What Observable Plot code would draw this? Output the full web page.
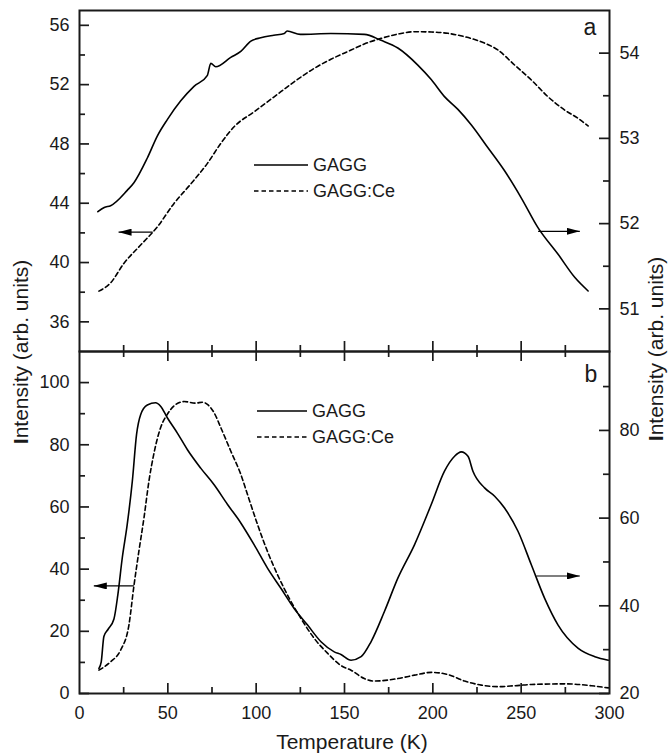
<!DOCTYPE html>
<html>
<head>
<meta charset="utf-8">
<script src="https://cdn.jsdelivr.net/npm/d3@7"></script>
<script src="https://cdn.jsdelivr.net/npm/@observablehq/plot@0.6"></script>
<style>
  html, body { margin: 0; padding: 0; background: #fff; }
  #chart { position: relative; width: 669px; height: 755px; font-family: "Liberation Sans", Arial, sans-serif; }
  #chart svg { position: absolute; left: 0; top: 0; }
</style>
</head>
<body>
<div id="chart"></div>
<script>
// ---------- tick values ----------
const xMajor = [0, 50, 100, 150, 200, 250, 300];
const xMinor = [25, 75, 125, 175, 225, 275];
const aLeftMajor = [36, 40, 44, 48, 52, 56];
const aLeftMinor = [38, 42, 46, 50, 54];
const aRightMajor = [51, 52, 53, 54];
const aRightMinor = [51.5, 52.5, 53.5];
const bLeftMajor = [0, 20, 40, 60, 80, 100];
const bLeftMinor = [10, 30, 50, 70, 90];
const bRightMajor = [20, 40, 60, 80];
const bRightMinor = [30, 50, 70, 90];

// ---------- series labels ----------
const seriesNames = ["GAGG", "GAGG:Ce"];
const panelNames = ["a", "b"];

// ---------- panel a : GAGG:Ce (dashed, left axis) ----------
const aCeT = [11.0, 17.6, 25.1, 34.6, 44.1, 53.5, 63.0, 72.4, 80.0, 87.5, 98.9, 110.2, 121.5, 132.9, 142.3, 153.7, 161.2, 170.7, 180.2, 189.6, 199.1, 208.5, 218.0, 227.4, 236.9, 246.3, 255.8, 265.2, 274.7, 282.3, 287.9];
const aCeV = [38.07, 38.63, 39.94, 41.18, 42.41, 43.99, 45.3, 46.69, 48.04, 49.16, 50.17, 51.18, 52.19, 53.10, 53.71, 54.33, 54.74, 55.12, 55.41, 55.57, 55.55, 55.46, 55.23, 54.89, 54.33, 53.32, 52.31, 51.18, 50.28, 49.72, 49.21];

// ---------- panel a : GAGG (solid, right axis) ----------
const aGaggT = [10.4, 14.0, 17.6, 27.0, 30.8, 38.4, 44.1, 49.7, 57.3, 64.8, 72.4, 74.3, 77.1, 85.6, 91.3, 97.0, 102.6, 110.0, 115.9, 117.5, 125.0, 142.3, 161.2, 170.7, 180.2, 191.5, 199.1, 206.6, 214.2, 221.7, 231.2, 240.6, 250.1, 259.6, 270.9, 280.3, 287.9];
const aGaggV = [52.14, 52.19, 52.21, 52.39, 52.48, 52.77, 53.03, 53.22, 53.44, 53.61, 53.74, 53.88, 53.84, 53.95, 54.02, 54.14, 54.18, 54.21, 54.23, 54.26, 54.22, 54.23, 54.22, 54.15, 54.06, 53.86, 53.69, 53.49, 53.34, 53.16, 52.89, 52.62, 52.30, 51.95, 51.64, 51.37, 51.21];

// ---------- panel b : GAGG:Ce (dashed, left axis) ----------
const bCeT = [11.0, 17.6, 23.3, 28.0, 30.8, 33.6, 36.5, 39.3, 42.2, 45.9, 49.7, 53.5, 59.2, 65.8, 69.5, 72.4, 76.2, 80.0, 85.6, 91.3, 95.1, 100.8, 106.4, 112.1, 119.7, 125.3, 132.9, 140.5, 148.0, 153.7, 161.2, 166.9, 180.2, 189.6, 199.1, 208.5, 218.0, 227.4, 236.9, 246.3, 255.8, 274.7, 289.8, 299.3];
const bCeV = [7.5, 10.2, 14.0, 22.1, 34.6, 45.7, 56.5, 68.3, 77.4, 85.5, 89.8, 92.5, 93.9, 93.4, 93.7, 93.0, 90.3, 85.5, 78.0, 70.5, 64.0, 54.3, 45.7, 38.2, 29.6, 24.2, 17.7, 12.9, 9.0, 7.5, 4.8, 4.0, 4.8, 5.9, 6.8, 6.1, 4.0, 2.7, 2.2, 2.5, 2.9, 3.1, 2.5, 1.8];

// ---------- panel b : GAGG (solid, right axis) ----------
const bGaggT = [11.0, 12.3, 13.8, 16.1, 19.5, 21.7, 24.2, 27.0, 29.9, 32.3, 34.6, 38.4, 43.1, 45.9, 49.7, 55.4, 61.1, 68.6, 76.2, 83.8, 91.3, 98.9, 106.4, 114.0, 121.5, 129.1, 136.7, 144.2, 148.0, 153.7, 159.4, 165.0, 172.6, 180.2, 189.6, 199.1, 206.6, 212.3, 216.1, 219.9, 222.7, 229.3, 235.0, 240.6, 248.2, 255.8, 263.3, 270.9, 282.3, 291.7, 299.3];
const bGaggV = [25.7, 27.2, 33.0, 34.6, 37.0, 42.5, 50.9, 58.5, 68.4, 79.1, 83.6, 85.8, 86.3, 85.5, 82.9, 79.4, 75.6, 71.4, 67.6, 63.1, 58.9, 53.9, 48.6, 44.0, 39.4, 35.6, 31.8, 29.5, 28.9, 27.6, 28.4, 31.8, 38.7, 46.3, 53.9, 63.1, 70.7, 74.1, 75.1, 74.1, 70.7, 66.9, 65.0, 62.3, 57.0, 49.3, 41.7, 35.6, 30.3, 28.4, 27.6];

// ---------- arrows (axis-pointing annotations) ----------
const aLeftArrow = [{x1: 41.4, x2: 22.1, y: 42.05}];
const aRightArrow = [{x1: 259.6, x2: 283.2, y: 51.91}];
const bLeftArrow = [{x1: 30.8, x2: 8.1, y: 34.6}];
const bRightArrow = [{x1: 258.6, x2: 283.2, y: 46.8}];

// ---------- layout ----------
const W = 669, H = 755;
const ML = 79, MR = 60;
const aTop = 10, mid = 351, bBottom = 693;
const plotW = W - ML - MR;
const aH = mid - aTop, bH = bBottom - mid;
const INK = "#1a1a1a";
const FONT = "'Liberation Sans', Arial, Helvetica, sans-serif";
const X_DOMAIN = [0, 300];
const A_LEFT = [34, 57], A_RIGHT = [50.5, 54.5], B_LEFT = [0, 110], B_RIGHT = [20, 98];
const MAJOR = 10, MINOR = 6;

const zip = (T, V) => T.map((t, i) => ({T: t, V: V[i]}));

function base(top, bottom, ydomain, xAxisNull) {
  return {
    width: W, height: H,
    marginLeft: ML, marginRight: MR, marginTop: top, marginBottom: H - bottom,
    x: xAxisNull ? {domain: X_DOMAIN, axis: null} : {domain: X_DOMAIN},
    y: {domain: ydomain},
    style: {background: "transparent", fontFamily: FONT, fontSize: "18px", color: INK, overflow: "visible"}
  };
}

const tickStyle = {stroke: INK, strokeWidth: 1.7};
const lineStyle = {x: "T", y: "V", stroke: "#000", strokeWidth: 1.6, curve: "monotone-x"};
const dashStyle = {...lineStyle, strokeDasharray: "4.5,3"};
const arrowStyle = {x1: "x1", x2: "x2", y1: "y", y2: "y", stroke: "#000", strokeWidth: 1.2};
const fmt = d => String(d);

// inward ticks: a pixel length converted into scale units
function yTicks(values, side, lenPx) {
  const u = lenPx * (X_DOMAIN[1] - X_DOMAIN[0]) / plotW;
  const x1 = side === "left" ? X_DOMAIN[0] : X_DOMAIN[1] - u;
  const x2 = side === "left" ? X_DOMAIN[0] + u : X_DOMAIN[1];
  return Plot.ruleY(values, {y: d => d, x1, x2, ...tickStyle});
}
function xTicks(values, where, lenPx, ydomain, h) {
  const u = lenPx * (ydomain[1] - ydomain[0]) / h;
  const y1 = where === "bottom" ? ydomain[0] : ydomain[1] - u;
  const y2 = where === "bottom" ? ydomain[0] + u : ydomain[1];
  return Plot.ruleX(values, {x: d => d, y1, y2, ...tickStyle});
}

// Panel a, left axis (GAGG:Ce)
const svgALeft = Plot.plot({
  ...base(aTop, mid, A_LEFT, true),
  marks: [
    Plot.frame({stroke: INK, strokeWidth: 2}),
    Plot.axisY({ticks: aLeftMajor, tickFormat: fmt, anchor: "left", tickSize: 0, tickPadding: 10, label: null}),
    yTicks(aLeftMajor, "left", MAJOR),
    yTicks(aLeftMinor, "left", MINOR),
    xTicks(xMajor.slice(1, -1), "bottom", MAJOR, A_LEFT, aH),
    xTicks(xMinor, "bottom", MINOR, A_LEFT, aH),
    Plot.line(zip(aCeT, aCeV), dashStyle),
    Plot.link(aLeftArrow, arrowStyle)
  ]
});

// Panel a, right axis (GAGG)
const svgARight = Plot.plot({
  ...base(aTop, mid, A_RIGHT, true),
  marks: [
    Plot.axisY({ticks: aRightMajor, tickFormat: fmt, anchor: "right", tickSize: 0, tickPadding: 10, label: null}),
    yTicks(aRightMajor, "right", MAJOR),
    yTicks(aRightMinor, "right", MINOR),
    Plot.line(zip(aGaggT, aGaggV), lineStyle),
    Plot.link(aRightArrow, arrowStyle)
  ]
});

// Panel b, left axis (GAGG:Ce)
const svgBLeft = Plot.plot({
  ...base(mid, bBottom, B_LEFT, false),
  marks: [
    Plot.frame({stroke: INK, strokeWidth: 2}),
    Plot.axisY({ticks: bLeftMajor, tickFormat: fmt, anchor: "left", tickSize: 0, tickPadding: 10, label: null}),
    Plot.axisX({ticks: xMajor, tickFormat: fmt, anchor: "bottom", tickSize: 0, tickPadding: 13, label: null}),
    yTicks(bLeftMajor, "left", MAJOR),
    yTicks(bLeftMinor, "left", MINOR),
    xTicks(xMajor.slice(1, -1), "bottom", MAJOR, B_LEFT, bH),
    xTicks(xMinor, "bottom", MINOR, B_LEFT, bH),
    xTicks(xMajor.slice(1, -1), "top", MAJOR, B_LEFT, bH),
    xTicks(xMinor, "top", MINOR, B_LEFT, bH),
    Plot.line(zip(bCeT, bCeV), dashStyle),
    Plot.link(bLeftArrow, arrowStyle)
  ]
});

// Panel b, right axis (GAGG)
const svgBRight = Plot.plot({
  ...base(mid, bBottom, B_RIGHT, true),
  marks: [
    Plot.axisY({ticks: bRightMajor, tickFormat: fmt, anchor: "right", tickSize: 0, tickPadding: 10, label: null}),
    yTicks(bRightMajor, "right", MAJOR),
    yTicks(bRightMinor, "right", MINOR),
    Plot.line(zip(bGaggT, bGaggV), lineStyle),
    Plot.link(bRightArrow, arrowStyle)
  ]
});

function addArrowHeads(svg, id) {
  const s = d3.select(svg);
  const m = s.append("defs").append("marker")
    .attr("id", id).attr("viewBox", "0 0 10 10")
    .attr("refX", 10).attr("refY", 5)
    .attr("markerWidth", 13).attr("markerHeight", 7)
    .attr("markerUnits", "userSpaceOnUse").attr("orient", "auto")
    .attr("preserveAspectRatio", "none");
  m.append("path").attr("d", "M0,0L10,5L0,10Z").attr("fill", "#000");
  s.selectAll('g[aria-label="link"] path').attr("marker-end", `url(#${id})`);
}

const chart = document.getElementById("chart");
[[svgALeft, "ahA1"], [svgARight, "ahA2"], [svgBLeft, "ahB1"], [svgBRight, "ahB2"]].forEach(([svg, id]) => {
  chart.appendChild(svg);
  addArrowHeads(svg, id);
});

// ---------- titles, panel letters, legends ----------
const ov = d3.select(chart).append("svg")
  .attr("width", W).attr("height", H)
  .style("font-family", FONT).style("overflow", "visible");

ov.append("text").attr("x", 352).attr("y", 749).attr("text-anchor", "middle")
  .attr("font-size", 21).attr("fill", INK).text("Temperature (K)");

function yTitle(x, y) {
  const t = ov.append("text").attr("transform", `translate(${x},${y}) rotate(-90)`)
    .attr("text-anchor", "middle").attr("font-size", 21).attr("fill", INK);
  t.append("tspan").attr("font-weight", "bold").text("I");
  t.append("tspan").text("ntensity (arb. units)");
}
yTitle(28, 352);
yTitle(663, 349);

ov.append("text").attr("x", 590).attr("y", 35).attr("text-anchor", "middle")
  .attr("font-size", 23).attr("fill", INK).text(panelNames[0]);
ov.append("text").attr("x", 591).attr("y", 382).attr("text-anchor", "middle")
  .attr("font-size", 23).attr("fill", INK).text(panelNames[1]);

function legend(x0, x1, tx, y1, y2) {
  const g = ov.append("g");
  g.append("line").attr("x1", x0).attr("x2", x1).attr("y1", y1).attr("y2", y1)
    .attr("stroke", "#000").attr("stroke-width", 1.6);
  g.append("line").attr("x1", x0).attr("x2", x1).attr("y1", y2).attr("y2", y2)
    .attr("stroke", "#000").attr("stroke-width", 1.6).attr("stroke-dasharray", "4.5,3");
  g.append("text").attr("x", tx).attr("y", y1).attr("dy", "0.36em")
    .attr("font-size", 18).attr("fill", INK).text(seriesNames[0]);
  g.append("text").attr("x", tx).attr("y", y2).attr("dy", "0.36em")
    .attr("font-size", 18).attr("fill", INK).text(seriesNames[1]);
}
legend(254, 308, 313, 165, 191);
legend(257, 307, 312, 411, 437);
</script>
</body>
</html>
